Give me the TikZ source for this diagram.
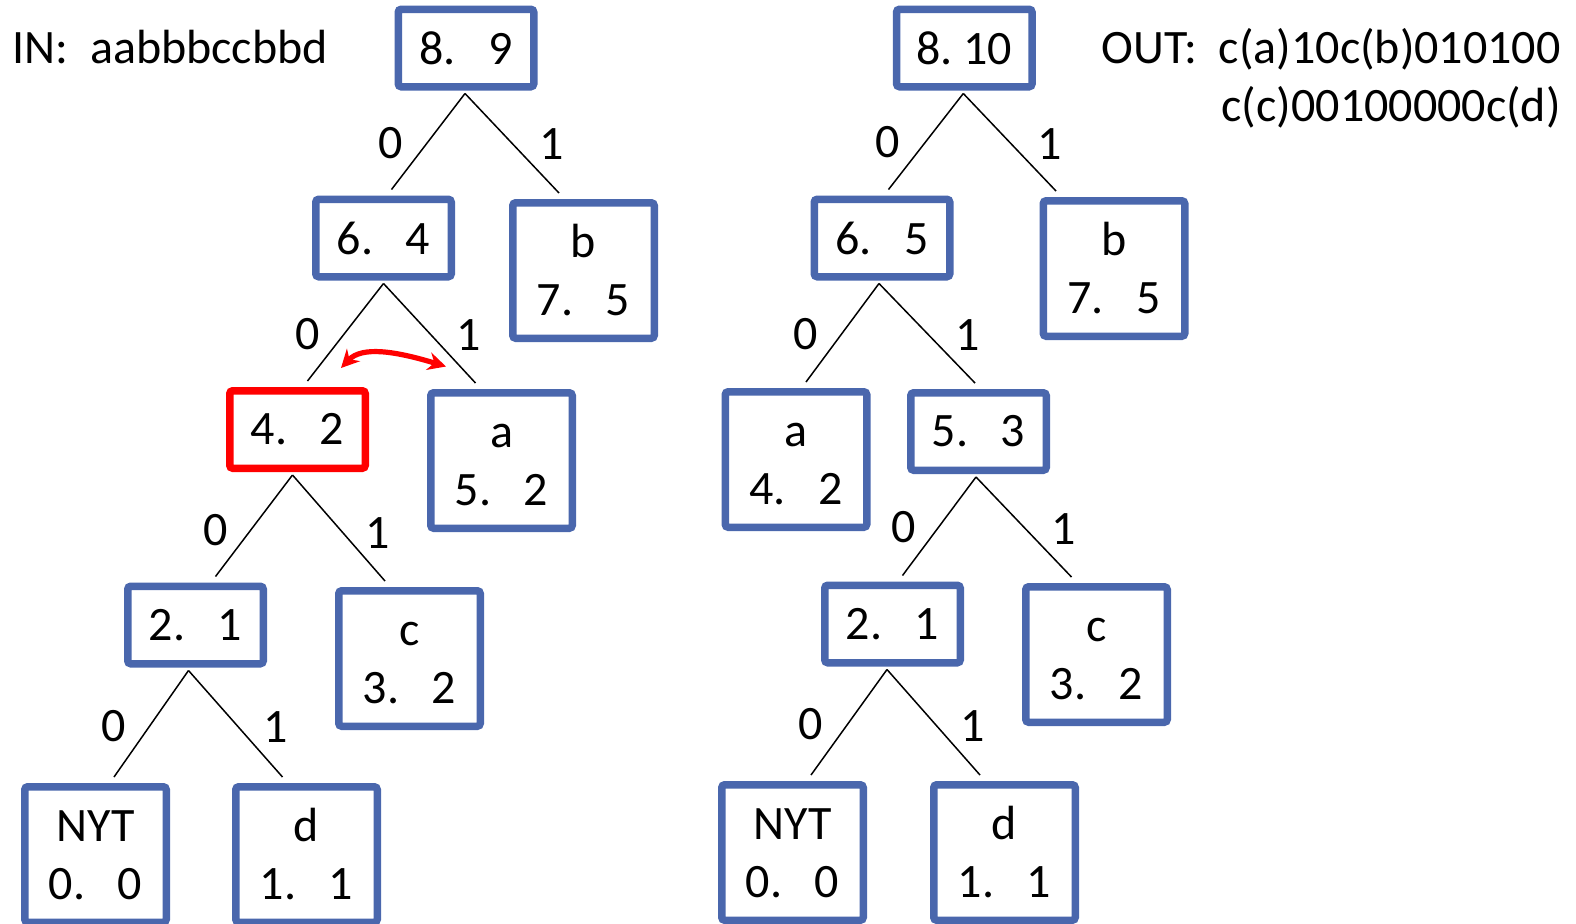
\documentclass[tikz,border=0pt]{standalone}
\usepackage{fontspec}
\setmainfont{Carlito}
\usetikzlibrary{calc,arrows.meta}
\definecolor{nodeblue}{RGB}{74,103,173}
\definecolor{swapred}{RGB}{255,0,0}
% weight pair "order.  count"
\newcommand\wpair[2]{#1.\hspace{0.68em}#2}
% leaf: symbol over its order/count pair
\newcommand\leaftext[3]{\vphantom{b}#1\\\wpair{#2}{#3}}
\begin{document}
\begin{tikzpicture}[x=0.5pt,y=-0.5pt,
  every node/.style={font=\fontsize{24pt}{29pt}\selectfont, inner sep=0pt},
  countbox/.style={draw=nodeblue, line width=3.75pt, fill=white, rounded corners=1.5pt,
    minimum width=67.75pt, minimum height=38.75pt},
  leafbox/.style={countbox, minimum width=70.75pt, minimum height=67.75pt, align=center},
  swapped/.style={draw=swapred},
  link/.style={line width=0.75pt, black},
  swaparrow/.style={draw=swapred, line width=2.6pt,
    {Stealth[length=9pt,width=9pt]}-{Stealth[length=9pt,width=9pt]}}]
\useasboundingbox (0,0) rectangle (1576,923);

% ---------- tree before the swap ----------
\node[countbox] (L1) at (466,48) {\wpair{8}{9}};
\node[countbox] (L2) at (383.5,238) {\wpair{6}{4}};
\node[leafbox]  (Lb) at (583.5,270.5) {\leaftext{b}{7}{5}};
\node[countbox,swapped] (L4) at (297.5,429.5) {\wpair{4}{2}};
\node[leafbox]  (La) at (501.5,460.5) {\leaftext{a}{5}{2}};
\node[countbox] (L21) at (195.5,625) {\wpair{2}{1}};
\node[leafbox]  (Lc) at (409.5,658.5) {\leaftext{c}{3}{2}};
\node[leafbox]  (LN) at (95.5,854.5) {\leaftext{NYT}{0}{0}};
\node[leafbox]  (Ld) at (306.5,854.5) {\leaftext{d}{1}{1}};

\draw[link] ($(L1.south)+(-1,3)$) -- ($(L2.north)+(8,-6)$);
\draw[link] ($(L1.south)+(-1,3)$) -- ($(Lb.north)+(-24.5,-6)$);
\draw[link] ($(L2.south)+(0,3)$) -- ($(L4.north)+(10,-6)$);
\draw[link] ($(L2.south)+(0,3)$) -- ($(La.north)+(-26,-6)$);
\draw[link] ($(L4.south)+(-5,3)$) -- ($(L21.north)+(20,-6)$);
\draw[link] ($(L4.south)+(-5,3)$) -- ($(Lc.north)+(-24.5,-6)$);
\draw[link] ($(L21.south)+(-7,3)$) -- ($(LN.north)+(18.5,-6)$);
\draw[link] ($(L21.south)+(-7,3)$) -- ($(Ld.north)+(-24,-6)$);

\node (l1a) at (391,143) {0};   \node (l1b) at (552,144) {1};
\node (l2a) at (307.5,334) {0}; \node (l2b) at (469,335) {1};
\node (l3a) at (216,530.5) {0}; \node (l3b) at (378,533.5) {1};
\node (l4a) at (113.5,726.5) {0}; \node (l4b) at (275.5,727.5) {1};

% swap of the 4-block and leaf a
\draw[swaparrow] ($(L4.north)+(43.5,-19)$) .. controls (362,346) and (395,351) .. ($(La.north)+(-55.5,-22.5)$);

% ---------- tree after the swap ----------
\node[countbox] (R1) at (964.3,48) {8.\ 10};
\node[countbox] (R2) at (882,238) {\wpair{6}{5}};
\node[leafbox]  (Rb) at (1114,268.5) {\leaftext{b}{7}{5}};
\node[leafbox]  (Ra) at (796,459.5) {\leaftext{a}{4}{2}};
\node[countbox] (R5) at (978.5,431.5) {\wpair{5}{3}};
\node[countbox] (R21) at (892.5,624) {\wpair{2}{1}};
\node[leafbox]  (Rc) at (1096.5,654.5) {\leaftext{c}{3}{2}};
\node[leafbox]  (RN) at (792.5,852.5) {\leaftext{NYT}{0}{0}};
\node[leafbox]  (Rd) at (1004.5,852.5) {\leaftext{d}{1}{1}};

\draw[link] ($(R1.south)+(-1,3)$) -- ($(R2.north)+(6.5,-6)$);
\draw[link] ($(R1.south)+(-1,3)$) -- ($(Rb.north)+(-58,-6)$);
\draw[link] ($(R2.south)+(-3,3)$) -- ($(Ra.north)+(10,-6)$);
\draw[link] ($(R2.south)+(-3,3)$) -- ($(R5.north)+(-3.5,-6)$);
\draw[link] ($(R5.south)+(-2.5,3)$) -- ($(R21.north)+(10,-6)$);
\draw[link] ($(R5.south)+(-2.5,3)$) -- ($(Rc.north)+(-25,-6)$);
\draw[link] ($(R21.south)+(-5.5,3)$) -- ($(RN.north)+(18.5,-6)$);
\draw[link] ($(R21.south)+(-5.5,3)$) -- ($(Rd.north)+(-24.5,-6)$);

\node (r1a) at (888,142) {0};   \node (r1b) at (1050,144) {1};
\node (r2a) at (806,334) {0};   \node (r2b) at (968,335) {1};
\node (r3a) at (903.5,527.5) {0}; \node (r3b) at (1064,529.5) {1};
\node (r4a) at (811,724.5) {0}; \node (r4b) at (973,726.5) {1};

% ---------- input and output streams ----------
\node[anchor=base west] (in) at (12,63) {IN:\ \ aabbbccbbd};
\node[anchor=base east] (out1) at (1561,63) {OUT:\ \ c(a)10c(b)010100};
\node[anchor=base east] (out2) at (1561,121) {c(c)00100000c(d)};
\end{tikzpicture}
\end{document}
